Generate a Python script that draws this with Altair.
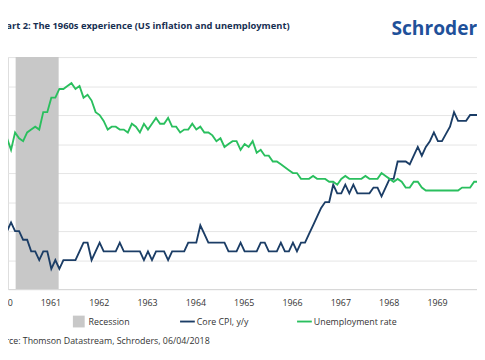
import altair as alt
import pandas as pd

# ---- data (monthly, Jan 1960 .. Oct 1969) ----
years = [1960, 1961, 1962, 1963, 1964, 1965, 1966, 1967, 1968, 1969]
core_cpi = [
    2.0, 2.3, 2.0, 2.0, 1.7, 1.7, 1.3, 1.3, 1.0, 1.3, 1.3, 0.7,   # 1960
    1.0, 0.7, 1.0, 1.0, 1.0, 1.0, 1.3, 1.6, 1.6, 1.0, 1.3, 1.6,   # 1961
    1.3, 1.3, 1.3, 1.3, 1.6, 1.3, 1.3, 1.3, 1.3, 1.3, 1.0, 1.3,   # 1962
    1.0, 1.3, 1.3, 1.3, 1.0, 1.3, 1.3, 1.3, 1.3, 1.6, 1.6, 1.6,   # 1963
    2.2, 1.9, 1.6, 1.6, 1.6, 1.6, 1.6, 1.3, 1.3, 1.3, 1.6, 1.3,   # 1964
    1.3, 1.3, 1.3, 1.6, 1.6, 1.3, 1.3, 1.3, 1.6, 1.3, 1.3, 1.6,   # 1965
    1.3, 1.6, 1.6, 1.9, 2.2, 2.5, 2.8, 3.0, 3.0, 3.6, 3.3, 3.3,   # 1966
    3.6, 3.3, 3.6, 3.3, 3.3, 3.3, 3.3, 3.5, 3.5, 3.2, 3.5, 3.8,   # 1967
    3.8, 4.4, 4.4, 4.4, 4.3, 4.6, 4.9, 4.6, 4.9, 5.1, 5.4, 5.1,   # 1968
    5.1, 5.35, 5.6, 6.1, 5.8, 5.8, 5.8, 6.0, 6.0, 6.0,            # 1969
]
unemployment = [
    5.2, 4.8, 5.4, 5.2, 5.1, 5.4, 5.5, 5.6, 5.5, 6.1, 6.1, 6.6,   # 1960
    6.6, 6.9, 6.9, 7.0, 7.1, 6.9, 7.0, 6.6, 6.7, 6.5, 6.1, 6.0,   # 1961
    5.8, 5.5, 5.6, 5.6, 5.5, 5.5, 5.4, 5.7, 5.6, 5.4, 5.7, 5.5,   # 1962
    5.7, 5.9, 5.7, 5.7, 5.9, 5.6, 5.6, 5.4, 5.5, 5.5, 5.7, 5.5,   # 1963
    5.6, 5.4, 5.4, 5.3, 5.1, 5.2, 4.9, 5.0, 5.1, 5.1, 4.8, 5.0,   # 1964
    4.9, 5.1, 4.7, 4.8, 4.6, 4.6, 4.4, 4.4, 4.3, 4.2, 4.1, 4.0,   # 1965
    4.0, 3.8, 3.8, 3.8, 3.9, 3.8, 3.8, 3.8, 3.7, 3.7, 3.6, 3.8,   # 1966
    3.9, 3.8, 3.8, 3.8, 3.8, 3.9, 3.8, 3.8, 3.8, 4.0, 3.9, 3.8,   # 1967
    3.7, 3.8, 3.7, 3.5, 3.5, 3.7, 3.7, 3.5, 3.4, 3.4, 3.4, 3.4,   # 1968
    3.4, 3.4, 3.4, 3.4, 3.4, 3.5, 3.5, 3.5, 3.7, 3.7,             # 1969
]
recession = [1960.27, 1961.16]   # Apr 1960 - Feb 1961 (as fractional years)
series_names = ["Core CPI, y/y", "Unemployment rate"]
y_ticks = [0, 1, 2, 3, 4, 5, 6, 7, 8]

title_text = "Chart 2: The 1960s experience (US inflation and unemployment)"
logo_text = "Schroders"
source_text = "Source: Thomson Datastream, Schroders, 06/04/2018"

NAVY = "#1b3d66"
GREEN = "#2abf5e"
GREY = "#c8c8c8"
FONT = "Open Sans"

def month_x(i):
    return 1960 + (i + 1.1) / 12.0

cpi_df = pd.DataFrame({"x": [month_x(i) for i in range(len(core_cpi))], "v": core_cpi})
un_df = pd.DataFrame({"x": [month_x(i) for i in range(len(unemployment))], "v": unemployment})
rec_df = pd.DataFrame({"x": [recession[0]], "x2": [recession[1]]})
yr_df = pd.DataFrame({"yr": years})

W, H = 477, 236
xscale = alt.Scale(domain=[1960.112, 1969.817], nice=False, zero=False)
yscale = alt.Scale(domain=[0, 8], nice=False)

xaxis = alt.Axis(values=years, labels=False, ticks=False, grid=False,
                 domain=True, domainColor="#d6d6d6", domainWidth=1, title=None)
yaxis = alt.Axis(values=y_ticks, labels=False, ticks=False, domain=False,
                 grid=True, gridColor="#e4e4e4", gridWidth=1, title=None)

rec = alt.Chart(rec_df).mark_rect(color=GREY).encode(
    x=alt.X("x:Q", scale=xscale, axis=xaxis),
    x2="x2:Q",
    y=alt.datum(8, type="quantitative", scale=yscale, axis=yaxis),
    y2=alt.datum(0),
)

cpi_line = alt.Chart(cpi_df).mark_line(color=NAVY, strokeWidth=1.9).encode(
    x=alt.X("x:Q", scale=xscale, axis=xaxis),
    y=alt.Y("v:Q", scale=yscale, axis=yaxis),
)
un_line = alt.Chart(un_df).mark_line(color=GREEN, strokeWidth=1.9).encode(
    x=alt.X("x:Q", scale=xscale, axis=xaxis),
    y=alt.Y("v:Q", scale=yscale, axis=yaxis),
)

year_labels = alt.Chart(yr_df).mark_text(
    font=FONT, fontSize=9, color="#333333", align="center", baseline="middle"
).encode(
    x=alt.X("yr:Q", scale=xscale, axis=xaxis),
    y=alt.value(H + 14),
    text=alt.Text("yr:Q", format="d"),
)

def txt(t, x, y, size, color, weight="normal", align="left", baseline="middle"):
    return alt.Chart(pd.DataFrame({"t": [t]})).mark_text(
        font=FONT, fontSize=size, color=color, fontWeight=weight,
        align=align, baseline=baseline,
    ).encode(text="t:N", x=alt.value(x), y=alt.value(y))

title = txt(title_text, -14, -32, 9.5, "#172f52", weight="bold")
logo = txt(logo_text, 390, -22, 19.5, "#1f519a", weight="bold", baseline="alphabetic")
source = txt(source_text, -18.5, 288.5, 9, "#333333")

leg_rect = alt.Chart(pd.DataFrame({"k": ["Recession"]})).mark_rect(color=GREY).encode(
    x=alt.value(66), x2=alt.value(78), y=alt.value(263), y2=alt.value(275)
)
leg_cpi = alt.Chart(pd.DataFrame({"k": [series_names[0]]})).mark_rule(
    color=NAVY, strokeWidth=1.9
).encode(x=alt.value(175), x2=alt.value(190), y=alt.value(269))
leg_un = alt.Chart(pd.DataFrame({"k": [series_names[1]]})).mark_rule(
    color=GREEN, strokeWidth=1.9
).encode(x=alt.value(294), x2=alt.value(309), y=alt.value(269))

leg_t1 = txt("Recession", 82, 269.5, 9, "#333333")
leg_t2 = txt(series_names[0], 192, 269.5, 9, "#333333")
leg_t3 = txt(series_names[1], 311, 269.5, 9, "#333333")

chart = alt.layer(
    rec, cpi_line, un_line, year_labels,
    title, logo, source,
    leg_rect, leg_cpi, leg_un, leg_t1, leg_t2, leg_t3,
).properties(
    width=W, height=H,
    padding={"left": 0, "top": 47, "right": 0, "bottom": 55},
    autosize=alt.AutoSizeParams(type="none"),
).configure_view(stroke=None).configure(background="white")

chart.save("out.html", embed_options={"renderer": "svg", "actions": False})
